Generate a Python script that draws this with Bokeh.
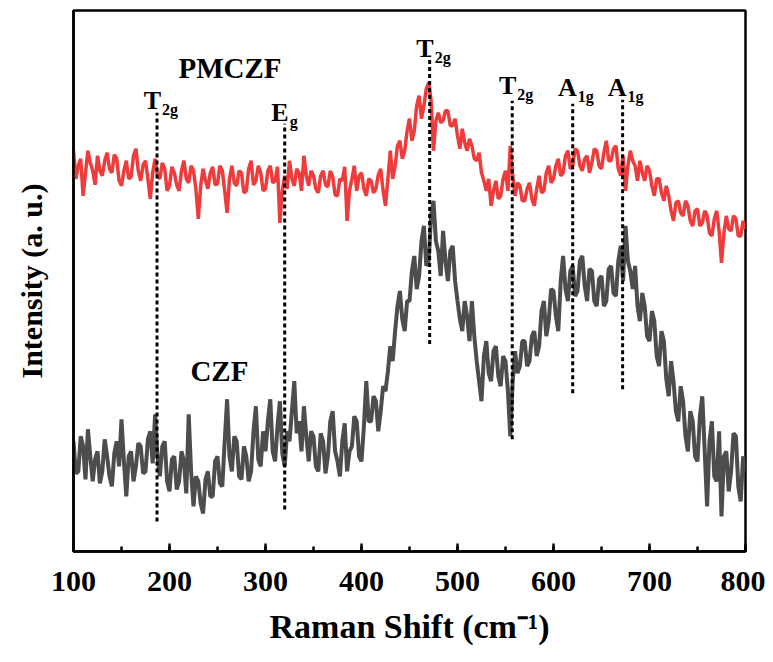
from bokeh.plotting import figure
from bokeh.models import Range1d, SingleIntervalTicker, FixedTicker, ColumnDataSource
from bokeh.core.properties import value
from bokeh.embed import file_html
from bokeh.resources import INLINE

# Raman shift (cm^-1), sampled every 2.5 cm^-1
shift = [100 + 2.5 * i for i in range(281)]

# PMCZF intensity (a.u., offset trace)
pmczf = [
    400, 372, 385, 392, 355, 378, 400, 388, 380, 366, 395, 380, 375, 390, 398, 382, 378, 396, 392, 370,
    365, 380, 390, 372, 374, 395, 402, 380, 370, 386, 390, 372, 352, 378, 392, 375, 372, 388, 382, 360,
    365, 384, 378, 366, 360, 380, 390, 372, 368, 385, 380, 362, 332, 365, 382, 370, 362, 378, 384, 366,
    367, 385, 380, 360, 338, 372, 385, 368, 365, 380, 378, 358, 360, 382, 390, 366, 370, 385, 378, 360,
    362, 380, 385, 368, 370, 384, 328, 360, 375, 362, 390, 372, 365, 382, 378, 360, 395, 375, 365, 380,
    375, 362, 358, 375, 380, 366, 364, 380, 374, 356, 355, 372, 370, 384, 330, 360, 372, 385, 360, 375,
    378, 362, 355, 372, 370, 358, 362, 376, 382, 360, 345, 372, 400, 372, 385, 405, 410, 392, 400, 420,
    432, 410, 420, 445, 455, 432, 445, 462, 468, 450, 400, 430, 438, 428, 430, 440, 440, 425, 425, 432,
    415, 402, 422, 408, 400, 412, 405, 392, 390, 398, 378, 370, 360, 372, 345, 360, 370, 352, 355, 372,
    380, 360, 405, 375, 355, 368, 365, 350, 350, 362, 368, 352, 345, 362, 375, 358, 360, 378, 385, 368,
    372, 385, 392, 375, 378, 395, 400, 382, 385, 402, 400, 385, 380, 392, 395, 378, 388, 402, 400, 385,
    382, 398, 410, 390, 390, 402, 405, 382, 375, 395, 360, 385, 400, 390, 385, 370, 390, 378, 370, 385,
    380, 365, 355, 372, 372, 358, 350, 365, 355, 340, 330, 348, 350, 338, 335, 350, 345, 330, 325, 340,
    342, 325, 328, 340, 335, 318, 315, 332, 340, 320, 288, 318, 335, 322, 320, 335, 332, 315, 315, 330,
    322,
]

# CZF intensity (a.u.)
czf = [
    110, 78, 80, 115, 105, 72, 122, 95, 70, 92, 100, 68, 80, 112, 95, 75, 65, 98, 110, 85,
    132, 90, 55, 95, 100, 70, 85, 108, 105, 78, 80, 112, 120, 88, 137, 95, 75, 105, 110, 70,
    60, 92, 95, 62, 70, 100, 90, 58, 137, 80, 45, 75, 70, 48, 38, 72, 80, 55, 55, 90,
    95, 68, 65, 110, 152, 95, 80, 115, 110, 75, 72, 105, 95, 70, 80, 120, 145, 92, 85, 120,
    100, 130, 152, 100, 90, 125, 150, 98, 85, 120, 110, 140, 170, 118, 130, 100, 145, 115, 90, 120,
    115, 85, 80, 118, 110, 78, 95, 130, 140, 100, 90, 75, 110, 128, 80, 100, 105, 135, 130, 95,
    90, 125, 170, 130, 130, 155, 150, 120, 140, 165, 160, 180, 205, 190, 220, 245, 260, 232, 220, 250,
    250, 280, 295, 262, 275, 310, 325, 285, 290, 335, 350, 310, 300, 275, 320, 290, 270, 300, 305, 270,
    250, 232, 220, 250, 235, 210, 250, 215, 190, 170, 150, 195, 210, 178, 170, 200, 205, 175, 165, 195,
    190, 160, 115, 170, 200, 178, 185, 210, 210, 185, 190, 215, 220, 195, 205, 240, 250, 215, 230, 262,
    260, 235, 220, 270, 295, 262, 250, 280, 285, 255, 260, 290, 295, 265, 250, 282, 280, 250, 245, 272,
    275, 245, 250, 282, 285, 258, 255, 290, 305, 270, 325, 290, 280, 262, 285, 245, 230, 258, 245, 215,
    210, 240, 230, 195, 185, 220, 210, 172, 155, 190, 170, 140, 130, 165, 150, 115, 100, 140, 130, 95,
    90, 135, 155, 100, 45, 110, 130, 75, 70, 120, 35, 95, 100, 60, 80, 118, 115, 65, 50, 95,
    80,
]

# Raman mode markers
mode_x = [187, 320, 471, 557, 620, 672]
mode_top = [438, 427, 495, 450, 447, 451]
mode_bottom = [30, 42, 207, 112, 158, 162]
mode_main = ["T", "E", "T", "T", "A", "A"]
mode_sub = ["2g", "g", "2g", "2g", "1g", "1g"]
mode_label_y = [450, 438, 502, 465, 463, 463]

# sample names
sample_names = ["PMCZF", "CZF"]
sample_x = [263, 252]
sample_y = [483, 180]

FONT = "Liberation Serif"

p = figure(width=765, height=662, output_backend="svg", toolbar_location=None,
           x_range=Range1d(100, 800), y_range=Range1d(0, 540),
           min_border_left=73, min_border_right=20, min_border_top=10,
           min_border_bottom=111)
p.xgrid.visible = False
p.ygrid.visible = False
p.outline_line_color = "black"
p.outline_line_width = 2.5
p.outline_line_alpha = 1.0

p.line(shift, pmczf, line_color="#ee3b3b", line_width=3.5)
p.line(shift, czf, line_color="#4d4d4d", line_width=4)

seg = ColumnDataSource(dict(x=mode_x, top=mode_top, bottom=mode_bottom,
                            main=mode_main, sub=mode_sub, ly=mode_label_y,
                            sy=[v - 9 for v in mode_label_y]))
p.segment(x0="x", y0="bottom", x1="x", y1="top", source=seg,
          line_color="black", line_width=3, line_dash="4 3")
p.text(x="x", y="ly", text="main", source=seg, text_align="right",
       text_baseline="alphabetic", x_offset=4,
       text_font=value(FONT), text_font_style="bold",
       text_font_size="26px", text_color="black")
p.text(x="x", y="sy", text="sub", source=seg, text_align="left",
       text_baseline="alphabetic", x_offset=5,
       text_font=value(FONT), text_font_style="bold",
       text_font_size="16px", text_color="black")

p.text(x=sample_x, y=sample_y, text=sample_names, text_align="center",
       text_baseline="alphabetic", text_font=value(FONT),
       text_font_style="bold", text_font_size="29px", text_color="black")

xa = p.xaxis[0]
xa.ticker = SingleIntervalTicker(interval=100, num_minor_ticks=2)
xa.axis_label = "Raman Shift (cm\u207b\u00b9)"
xa.axis_label_text_font = FONT
xa.axis_label_text_font_style = "bold"
xa.axis_label_text_font_size = "34px"
xa.axis_label_text_color = "black"
xa.axis_label_standoff = 14
xa.major_label_text_font = FONT
xa.major_label_text_font_style = "bold"
xa.major_label_text_font_size = "30px"
xa.major_label_text_color = "black"
xa.major_label_standoff = 20
xa.major_tick_in = 8
xa.major_tick_out = 0
xa.minor_tick_in = 5
xa.minor_tick_out = 0
xa.axis_line_width = 2.5
xa.axis_line_color = "black"
xa.major_tick_line_width = 2.5
xa.minor_tick_line_width = 2.5
xa.major_tick_line_color = "black"
xa.minor_tick_line_color = "black"

ya = p.yaxis[0]
ya.ticker = FixedTicker(ticks=[])
ya.axis_label = "Intensity (a. u.)"
ya.axis_label_text_font = FONT
ya.axis_label_text_font_style = "bold"
ya.axis_label_text_font_size = "30px"
ya.axis_label_text_color = "black"
ya.axis_label_standoff = 26
ya.axis_line_width = 2.5
ya.axis_line_color = "black"
ya.major_label_text_font_size = "0px"

open("out.html", "w").write(file_html(p, INLINE))
